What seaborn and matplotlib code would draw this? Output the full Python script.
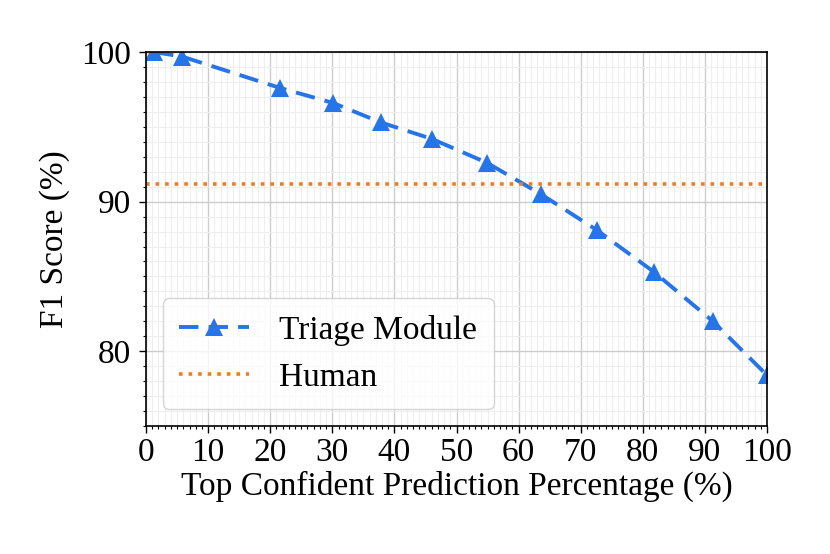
import numpy as np
import pandas as pd
import matplotlib
matplotlib.use("Agg")
import matplotlib.pyplot as plt
import seaborn as sns
from matplotlib.ticker import MultipleLocator

# Valores
percentagens = [1.3, 5.8, 21.6, 30.1, 37.8, 46.0, 54.9, 63.6, 72.6, 81.8, 91.3, 100.0]
f1_triage = [100.0, 99.7, 97.6, 96.6, 95.3, 94.2, 92.6, 90.5, 88.1, 85.3, 82.0, 78.4]
f1_humano = 91.2

sns.set_style("ticks")
plt.rcParams['font.family'] = ['Liberation Serif', 'DejaVu Serif']
plt.rcParams['mathtext.fontset'] = 'stix'
plt.rcParams['text.color'] = 'black'
plt.rcParams['axes.labelcolor'] = 'black'
plt.rcParams['xtick.color'] = 'black'
plt.rcParams['ytick.color'] = 'black'

df = pd.DataFrame({'pct': percentagens, 'f1': f1_triage})

fig, ax = plt.subplots(figsize=(8.3, 5.54), dpi=100)

sns.lineplot(data=df, x='pct', y='f1', ax=ax, color='#2574e8',
             linewidth=2.8, marker='^', markersize=13, markeredgewidth=0,
             label='Triage Module')
ax.lines[0].set_dashes((5, 2.6))
ax.axhline(f1_humano, color='#ee7d22', linestyle=':', linewidth=2.6, label='Human')

ax.set_xlim(0, 100)
ax.set_ylim(75, 100)
ax.xaxis.set_major_locator(MultipleLocator(10))
ax.xaxis.set_minor_locator(MultipleLocator(1))
ax.yaxis.set_major_locator(MultipleLocator(10))
ax.yaxis.set_minor_locator(MultipleLocator(1))
ax.grid(True, which='major', color='#cccccc', linewidth=1.0)
ax.grid(True, which='minor', color='#eeeeee', linewidth=0.8)
ax.set_axisbelow(True)

for s in ax.spines.values():
    s.set_visible(True)
    s.set_color('black')
    s.set_linewidth(1.2)

ax.tick_params(axis='both', which='major', labelsize=24, length=5, width=1)
ax.tick_params(axis='y', which='major', pad=6)
ax.tick_params(axis='both', which='minor', length=2.5, width=0.8)
ax.set_xlabel('Top Confident Prediction Percentage (%)', fontsize=24, labelpad=2)
ax.set_ylabel('F1 Score (%)', fontsize=24, labelpad=8)

ax.legend(loc='lower left', fontsize=24, handlelength=2.1, handletextpad=0.9,
          frameon=True, borderpad=0.5)

plt.subplots_adjust(left=0.176, right=0.924, top=0.906, bottom=0.231)
plt.savefig('out.png', dpi=100)
plt.close()
